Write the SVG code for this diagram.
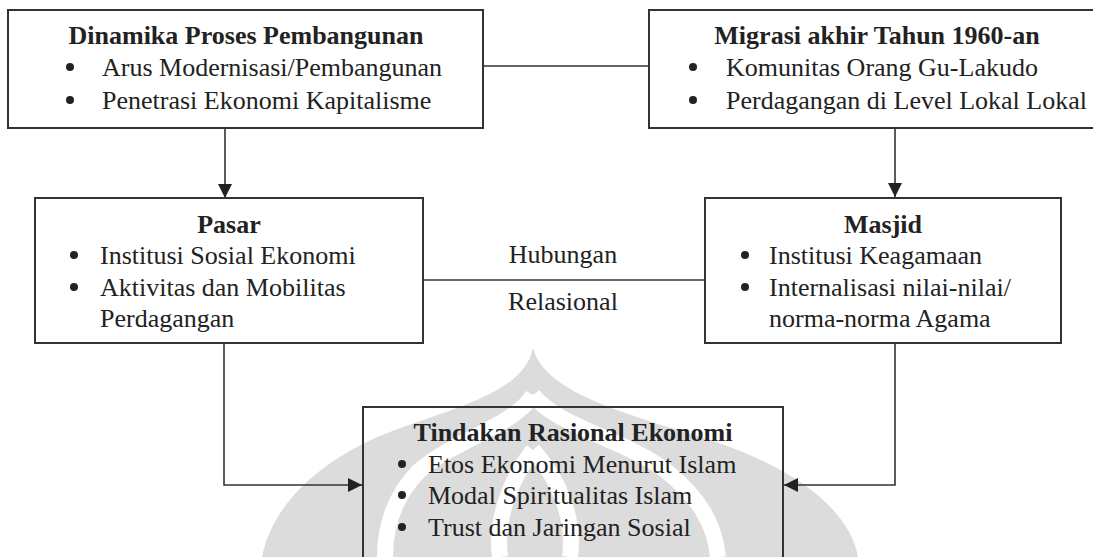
<svg xmlns="http://www.w3.org/2000/svg" width="1093" height="557" viewBox="0 0 1093 557">
<style>
text{font-family:"Liberation Serif","Times New Roman",serif;font-size:26px;fill:#222}
.t{font-weight:bold;text-anchor:middle}
.b{text-anchor:middle}
.dot{fill:#222}
.box{fill:none;stroke:#333;stroke-width:2}
.ln{fill:none;stroke:#333;stroke-width:1.6}
.wm{fill:#dcdcdc}
.wb{fill:none;stroke:#fff;stroke-width:16}
</style>
<defs>
<marker id="ah" markerUnits="userSpaceOnUse" markerWidth="16" markerHeight="14" refX="14" refY="7" orient="auto">
<path d="M0,0 L14,7 L0,14 Z" fill="#222"/>
</marker>
</defs>
<g id="watermark">
<path class="wm" d="M533,348 C545,392 620,412 710,440 C795,468 850,510 858,557 L262,557 C272,505 320,458 395,430 C475,402 524,388 533,348 Z"/>
<path class="wb" d="M533,395 C515,425 455,440 420,470 C395,495 385,525 385,557"/>
<path class="wb" d="M533,395 C555,425 625,440 665,470 C700,498 715,525 718,557"/>
<path class="wb" d="M533,450 C510,480 495,520 500,557"/>
<path class="wb" d="M533,450 C560,480 575,520 570,557"/>
</g>
<g id="connectors">
<line class="ln" x1="483" y1="66" x2="649" y2="66"/>
<line class="ln" x1="225" y1="128" x2="225" y2="198" marker-end="url(#ah)"/>
<line class="ln" x1="895" y1="128" x2="895" y2="197" marker-end="url(#ah)"/>
<line class="ln" x1="423" y1="280" x2="705" y2="280"/>
<polyline class="ln" points="224,343 224,485 362,485" marker-end="url(#ah)"/>
<polyline class="ln" points="895,343 895,485 784,485" marker-end="url(#ah)"/>
<text class="b" x="563" y="263">Hubungan</text>
<text class="b" x="563" y="310">Relasional</text>
</g>
<g id="node-dinamika">
<rect class="box" x="8" y="10" width="475" height="118"/>
<text class="t" x="246" y="44">Dinamika Proses Pembangunan</text>
<circle class="dot" cx="70" cy="67" r="4"/><text x="102" y="76">Arus Modernisasi/Pembangunan</text>
<circle class="dot" cx="70" cy="100" r="4"/><text x="102" y="109">Penetrasi Ekonomi Kapitalisme</text>
</g>
<g id="node-migrasi">
<rect class="box" x="649" y="10" width="460" height="118"/>
<text class="t" x="877" y="44">Migrasi akhir Tahun 1960-an</text>
<circle class="dot" cx="693" cy="67" r="4"/><text x="726" y="76">Komunitas Orang Gu-Lakudo</text>
<circle class="dot" cx="693" cy="100" r="4"/><text x="726" y="109">Perdagangan di Level Lokal Lokal</text>
</g>
<g id="node-pasar">
<rect class="box" x="35" y="198" width="388" height="145"/>
<text class="t" x="229" y="233">Pasar</text>
<circle class="dot" cx="74" cy="255" r="4"/><text x="100" y="264">Institusi Sosial Ekonomi</text>
<circle class="dot" cx="74" cy="287" r="4"/><text x="100" y="296">Aktivitas dan Mobilitas</text>
<text x="100" y="327">Perdagangan</text>
</g>
<g id="node-masjid">
<rect class="box" x="705" y="198" width="356" height="145"/>
<text class="t" x="883" y="233">Masjid</text>
<circle class="dot" cx="745" cy="255" r="4"/><text x="769" y="264">Institusi Keagamaan</text>
<circle class="dot" cx="745" cy="287" r="4"/><text x="769" y="296">Internalisasi nilai-nilai/</text>
<text x="769" y="327">norma-norma Agama</text>
</g>
<g id="node-tindakan">
<rect class="box" x="363" y="407" width="420" height="200"/>
<text class="t" x="573" y="441">Tindakan Rasional Ekonomi</text>
<circle class="dot" cx="402" cy="464" r="4"/><text x="428" y="473">Etos Ekonomi Menurut Islam</text>
<circle class="dot" cx="402" cy="495" r="4"/><text x="428" y="504">Modal Spiritualitas Islam</text>
<circle class="dot" cx="402" cy="527" r="4"/><text x="428" y="536">Trust dan Jaringan Sosial</text>
</g>
</svg>
